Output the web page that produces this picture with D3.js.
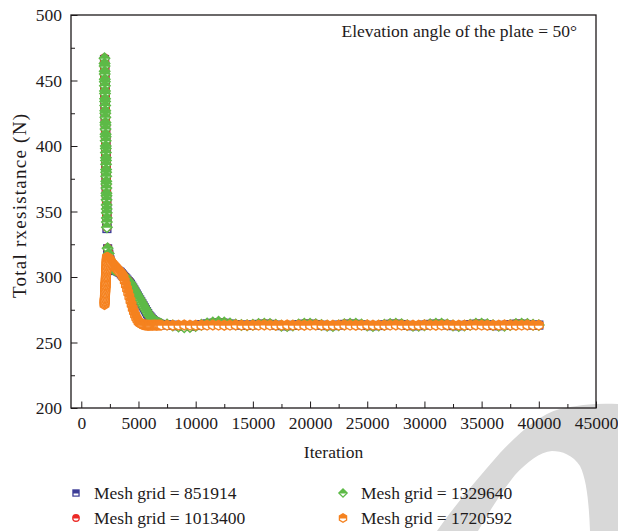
<!DOCTYPE html>
<html>
<head>
<meta charset="utf-8">
<script src="https://cdn.jsdelivr.net/npm/d3@7"></script>
<style>
  html, body { margin: 0; padding: 0; background: #fff; }
  svg { display: block; }
  svg text { font-family: "Liberation Serif", "Times New Roman", "DejaVu Serif", serif; }
</style>
</head>
<body>
<svg id="chart" width="618" height="531"></svg>
<script>
// Solver iterations at which the total resistance was sampled
const iterations = [
  2030, 2035, 2040, 2045, 2050, 2055, 2060, 2065, 2070, 2075, 2080, 2085, 2090, 2095, 2100,
  2105, 2110, 2115, 2120, 2125, 2130, 2135, 2140, 2145, 2150, 2155, 2160, 2165, 2170, 2175,
  2180, 2185, 2190, 2195, 2200, 2205, 2210, 2215, 2220, 2225, 2230, 2235, 2240,
  2300, 2400, 2500, 2600, 2700, 2800, 2900, 3000, 3100, 3200, 3300, 3400, 3500, 3600, 3700,
  3800, 3900, 4000, 4100, 4200, 4300, 4400, 4500, 4600, 4700, 4800, 4900, 5000, 5100, 5200,
  5300, 5400, 5500, 5600, 5700, 5800, 5900, 6000, 6100, 6200, 6300, 6400, 6500, 6600, 6700,
  6800, 6900, 7000,
  7500, 8000, 8500, 9000, 9500, 10000, 10500, 11000, 11500, 12000, 12500, 13000, 13500,
  14000, 14500, 15000, 15500, 16000, 16500, 17000, 17500, 18000, 18500, 19000, 19500, 20000,
  20500, 21000, 21500, 22000, 22500, 23000, 23500, 24000, 24500, 25000, 25500, 26000, 26500,
  27000, 27500, 28000, 28500, 29000, 29500, 30000, 30500, 31000, 31500, 32000, 32500, 33000,
  33500, 34000, 34500, 35000, 35500, 36000, 36500, 37000, 37500, 38000, 38500, 39000, 39500,
  40000
];

// Total resistance (N) for each mesh size
const mesh851914 = [
  466, 463, 460, 457, 454, 451, 448, 446, 442, 439, 436, 433, 431, 427, 424, 421, 418, 415,
  412, 409, 406, 403, 400, 397, 394, 391, 388, 385, 382, 379, 376, 373, 370, 367, 364, 361,
  358, 355, 352, 348, 345, 341, 337,
  321.5, 317.5, 313, 309.5, 307, 305.5, 305, 305, 305, 304.5, 304, 303.5, 302.5, 301.5, 300.5,
  299.5, 298.5, 297.5, 296.5, 295.5, 294.5, 293, 291.5, 290, 288.5, 287, 285.5, 284, 282.5,
  281, 279.5, 278, 276.5, 275, 273.5, 272, 270.5, 269.5, 268.5, 267.5, 266.5, 266, 265.5, 265,
  264.5, 264, 263.8, 263.6,
  263.5, 263.2, 262.8, 262.4, 262.5, 263, 263.6, 264.2, 264.7, 265, 264.7, 264.1, 263.6, 263.3,
  263.2, 263.4, 263.8, 264, 263.8, 263.3, 262.9, 262.8, 263.1, 263.6, 264, 264, 263.7, 263.2,
  262.9, 262.9, 263.3, 263.8, 264, 263.9, 263.5, 263, 262.8, 263, 263.5, 263.9, 264, 263.7,
  263.1, 262.8, 262.9, 263.3, 263.8, 264, 263.9, 263.4, 262.9, 262.8, 263.1, 263.6, 264, 264,
  263.6, 263, 262.8, 263.1, 263.6, 264, 264, 263.7, 263.3, 263.3
];
const mesh1013400 = [
  467, 464, 460, 458, 454, 452, 448, 445, 443, 439, 437, 433, 430, 428, 424, 421, 419, 415,
  412, 410, 406, 403, 401, 397, 394, 392, 388, 385, 383, 379, 376, 374, 370, 367, 365, 361,
  358, 356, 352, 348, 346, 342, 338,
  322, 318.5, 314, 310, 307.5, 306, 305.5, 305.5, 305.5, 305, 304.5, 303.5, 303, 302, 301,
  300, 299, 298, 297, 296, 294.5, 293.5, 292, 290.5, 289, 287.5, 286, 284.5, 283, 281.5, 280,
  278.5, 277, 275.5, 274, 272.5, 271, 270, 269, 268, 267, 266.5, 266, 265.5, 265, 264.5, 264,
  263.8,
  263.6, 262.9, 262.3, 261.9, 262, 262.7, 263.5, 264.3, 265, 265.4, 265, 264.3, 263.7, 263.3,
  263.2, 263.4, 263.9, 264.2, 264, 263.4, 262.8, 262.6, 263, 263.7, 264.2, 264.2, 263.8, 263.2,
  262.8, 262.7, 263.1, 263.8, 264.2, 264.1, 263.5, 262.9, 262.7, 263, 263.6, 264.1, 264.2,
  263.8, 263.1, 262.7, 262.8, 263.3, 263.9, 264.2, 264, 263.4, 262.8, 262.7, 263.1, 263.7,
  264.2, 264.2, 263.6, 262.9, 262.7, 263.1, 263.7, 264.2, 264.2, 263.8, 263.4, 263.3
];
const mesh1329640 = [
  467, 463, 461, 457, 455, 451, 449, 446, 442, 440, 436, 434, 431, 427, 425, 422, 418, 416,
  413, 409, 407, 404, 400, 398, 395, 391, 389, 386, 382, 380, 377, 373, 371, 368, 364, 362,
  359, 355, 352, 349, 345, 342, 338,
  322, 318, 313.5, 310, 307.5, 306, 305.5, 305.5, 305.5, 305, 304.5, 304, 303, 302, 301, 300,
  299, 298, 297, 296, 295, 293.5, 292, 290.5, 289, 287.5, 286, 284.5, 283, 281.5, 280, 278.5,
  277, 275.5, 274, 272.5, 271, 270, 269, 268, 267, 266.5, 266, 265.5, 265, 264.5, 264.2, 264,
  263.8, 263, 262.2, 261.6, 261.8, 262.5, 263.5, 264.5, 265.3, 265.8, 265.3, 264.5, 263.8,
  263.4, 263.2, 263.5, 264.1, 264.4, 264.2, 263.6, 262.8, 262.5, 262.9, 263.7, 264.3, 264.4,
  264, 263.4, 262.8, 262.6, 263.1, 263.9, 264.4, 264.3, 263.7, 263, 262.6, 262.9, 263.6,
  264.2, 264.4, 264, 263.3, 262.7, 262.7, 263.2, 263.9, 264.3, 264.3, 263.7, 263, 262.6,
  262.9, 263.6, 264.3, 264.4, 264, 263.3, 262.7, 262.8, 263.4, 264.1, 264.4, 264.1, 263.5,
  263.3
];
const mesh1720592 = [
  279, 280, 281, 282, 282, 283, 284, 285, 286, 287, 288, 288, 289, 290, 291, 292, 293, 294,
  294, 295, 296, 297, 298, 299, 300, 300, 301, 302, 303, 304, 305, 306, 306, 307, 308, 309,
  310, 311, 312, 312, 313, 314, 315,
  315, 314, 313, 311.5, 310.5, 309.5, 308.5, 307.5, 306.5, 305.5, 304.5, 303.5, 302.5, 301,
  299.5, 297, 294, 291, 288, 285, 282, 279, 276, 273.5, 271, 269, 267.5, 266, 265, 264.5, 264,
  263.7, 263.5, 263.4, 263.3, 263.2, 263.2, 263.2, 263.3, 263.2, 263.3, 263.4, 263.3, 263.2,
  263.3, 263.4, 263.3, 263.3,
  263.3, 263.2, 263.3, 263.4, 263.3, 263.2, 263.3, 263.3, 263.4, 263.3, 263.2, 263.3, 263.4,
  263.3, 263.2, 263.3, 263.3, 263.4, 263.3, 263.2, 263.3, 263.4, 263.3, 263.3, 263.2, 263.3,
  263.4, 263.3, 263.2, 263.3, 263.3, 263.4, 263.3, 263.2, 263.3, 263.4, 263.3, 263.3, 263.2,
  263.3, 263.4, 263.3, 263.2, 263.3, 263.3, 263.4, 263.3, 263.2, 263.3, 263.4, 263.3, 263.3,
  263.2, 263.3, 263.4, 263.3, 263.2, 263.3, 263.3, 263.4, 263.3, 263.2, 263.3, 263.4, 263.3,
  263.3
];

const seriesNames = ["Mesh grid = 851914", "Mesh grid = 1013400", "Mesh grid = 1329640", "Mesh grid = 1720592"];
const seriesValues = [mesh851914, mesh1013400, mesh1329640, mesh1720592];
const seriesColors = ["#3c3c96", "#ec2a26", "#5dba47", "#f5821f"];
const seriesShapes = ["square", "circle", "diamond", "hexagon"];

const xTicks = [0, 5000, 10000, 15000, 20000, 25000, 30000, 35000, 40000, 45000];
const xMinorTicks = [2500, 7500, 12500, 17500, 22500, 27500, 32500, 37500, 42500];
const yTicks = [200, 250, 300, 350, 400, 450, 500];
const yMinorTicks = [225, 275, 325, 375, 425, 475];

const xTitle = "Iteration";
const yTitle = "Total rxesistance (N)";
const note = "Elevation angle of the plate = 50°";

const ink = "#1e1a1b";
const serif = "'Liberation Serif', 'Times New Roman', 'DejaVu Serif', serif";
const fontSize = 17.5;
const svg = d3.select("#chart");

const plot = { left: 71, right: 596, top: 15, bottom: 408 };
const x = d3.scaleLinear().domain([-900, 45000]).range([plot.left, plot.right]);
const y = d3.scaleLinear().domain([200, 500]).range([plot.bottom, plot.top]);

// light badge shape in the lower right corner
svg.append("path")
  .attr("d", "M437,531 C455,505 478,478 500,453 C520,432 540,414 560,409 C580,404 600,403 618,404 " +
             "L618,531 L590,531 C589,505 587,480 580,466 C573,455 562,451 552,451 " +
             "C540,452 527,462 515,475 C503,490 490,510 478,531 Z")
  .attr("fill", "#d8d8d8");

// marker shapes, centred on the origin
function shapePath(kind, r) {
  if (kind === "square") return `M${-r},${-r}H${r}V${r}H${-r}Z`;
  if (kind === "circle") return `M${-r},0A${r},${r} 0 1,1 ${r},0A${r},${r} 0 1,1 ${-r},0Z`;
  if (kind === "diamond") return `M0,${-r}L${r},0L0,${r}L${-r},0Z`;
  const pts = d3.range(6).map(k => {
    const a = (-90 + 60 * k) * Math.PI / 180;
    return [r * Math.cos(a), r * Math.sin(a)];
  });
  return "M" + pts.map(p => p[0].toFixed(2) + "," + p[1].toFixed(2)).join("L") + "Z";
}
// marker radii: [outer, inner] for the legend and for the plotted points
const legendR = { square: [3.7, 2.4], circle: [3.9, 2.6], diamond: [5.1, 3.3], hexagon: [4.9, 3.4] };
const pointR = { square: [4.6, 3.2], circle: [4.8, 3.4], diamond: [6.2, 4.3], hexagon: [5.7, 4.1] };

// half-filled markers: the lower half of the interior stays white
const defs = svg.append("defs");
defs.append("clipPath").attr("id", "lower-half").attr("clipPathUnits", "userSpaceOnUse")
  .append("rect").attr("x", -20).attr("y", 0.6).attr("width", 40).attr("height", 20);

function drawMarker(sel, kind, color, radii) {
  sel.append("path").attr("d", shapePath(kind, radii[kind][0])).attr("fill", color);
  sel.append("path").attr("d", shapePath(kind, radii[kind][1])).attr("fill", "#fff")
    .attr("clip-path", "url(#lower-half)");
}

// axes: ticks point into the plot
const axisStyle = g => {
  g.select(".domain").remove();
  g.attr("font-family", serif).attr("font-size", fontSize);
  g.selectAll("line").attr("stroke", ink).attr("stroke-width", 1);
  g.selectAll("text").attr("fill", ink).attr("font-family", serif).attr("font-size", fontSize);
};

svg.append("g").attr("transform", `translate(0,${plot.bottom})`)
  .call(d3.axisBottom(x).tickValues(xTicks).tickSizeInner(-6.5).tickSizeOuter(0)
        .tickPadding(9).tickFormat(d3.format("d")))
  .call(axisStyle);
svg.append("g").attr("transform", `translate(0,${plot.bottom})`)
  .call(d3.axisBottom(x).tickValues(xMinorTicks).tickSizeInner(-4).tickSizeOuter(0).tickFormat(""))
  .call(axisStyle);
svg.append("g").attr("transform", `translate(${plot.left},0)`)
  .call(d3.axisLeft(y).tickValues(yTicks).tickSizeInner(-6.5).tickSizeOuter(0)
        .tickPadding(9).tickFormat(d3.format("d")))
  .call(axisStyle);
svg.append("g").attr("transform", `translate(${plot.left},0)`)
  .call(d3.axisLeft(y).tickValues(yMinorTicks).tickSizeInner(-4).tickSizeOuter(0).tickFormat(""))
  .call(axisStyle);

// data markers
seriesValues.forEach((vals, s) => {
  const pts = iterations.map((it, i) => ({ it, v: vals[i] }));
  svg.append("g").attr("class", "series")
    .selectAll("g").data(pts).join("g")
    .attr("transform", d => `translate(${x(d.it).toFixed(2)},${y(d.v).toFixed(2)})`)
    .each(function () { drawMarker(d3.select(this), seriesShapes[s], seriesColors[s], pointR); });
});

// plot frame
svg.append("rect")
  .attr("x", plot.left).attr("y", plot.top)
  .attr("width", plot.right - plot.left).attr("height", plot.bottom - plot.top)
  .attr("fill", "none").attr("stroke", ink).attr("stroke-width", 1.3);

// titles and note
function label(sel) {
  return sel.attr("font-family", serif).attr("font-size", fontSize).attr("fill", ink);
}
svg.append("text").attr("x", (plot.left + plot.right) / 2).attr("y", 458)
  .attr("text-anchor", "middle").call(label).text(xTitle);
svg.append("text").attr("transform", "translate(26,206) rotate(-90)")
  .attr("text-anchor", "middle").call(label)
  .attr("font-size", 19)
  .attr("textLength", 184).attr("lengthAdjust", "spacing")
  .text(yTitle);
svg.append("text").attr("x", 577).attr("y", 36.5)
  .attr("text-anchor", "end").call(label).text(note);

// legend, two columns
const legendCols = [76, 343];
const legendRows = [493, 518];
seriesNames.forEach((name, i) => {
  const g = svg.append("g")
    .attr("transform", `translate(${legendCols[Math.floor(i / 2)]},${legendRows[i % 2]})`);
  drawMarker(g, seriesShapes[i], seriesColors[i], legendR);
  g.append("text").attr("x", 18).attr("y", 6).call(label).text(name);
});
</script>
</body>
</html>
